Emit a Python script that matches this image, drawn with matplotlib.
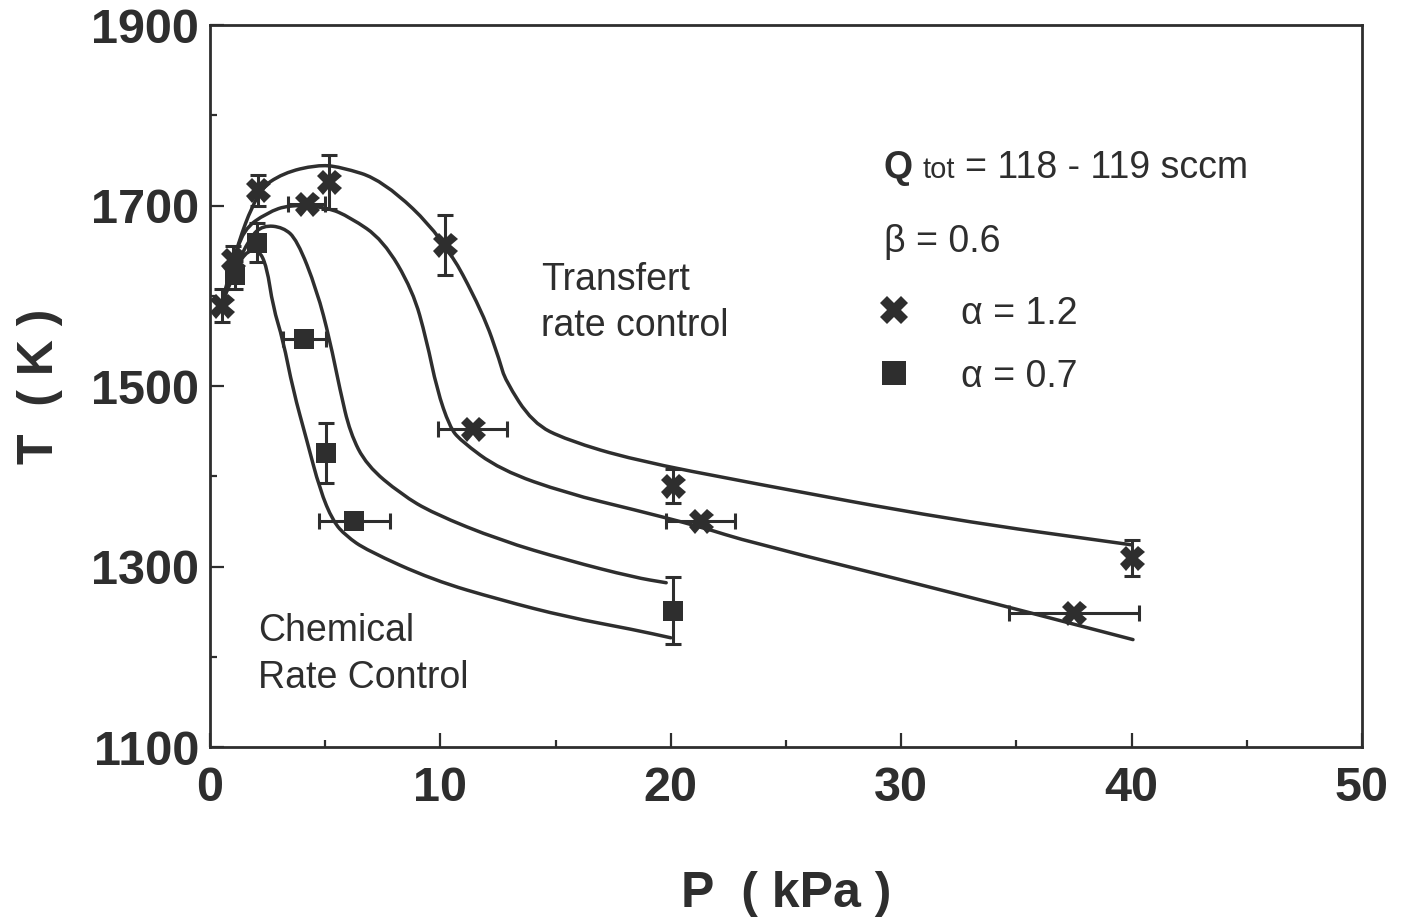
import matplotlib
matplotlib.use('Agg')
import matplotlib.pyplot as plt
from matplotlib.path import Path
from matplotlib.patches import PathPatch
from matplotlib.offsetbox import TextArea, HPacker, AnnotationBbox

plt.rcParams['font.family'] = ['Liberation Sans', 'DejaVu Sans']

ink = '#2e2e2e'

# measured points, alpha = 1.2 (crosses)
p12 = [0.52, 1.0, 2.08, 4.2, 5.17, 10.2, 11.4, 20.1, 21.3, 40.0, 37.5]
t12 = [1589, 1640, 1717, 1702, 1726, 1656, 1452, 1389, 1350, 1309, 1248]
p12_err = [0, 0, 0, 0.8, 0, 0, 1.5, 0, 1.5, 0, 2.8]
t12_err = [18, 15, 17, 0, 30, 33, 0, 19, 0, 20, 0]

# measured points, alpha = 0.7 (squares)
p07 = [1.1, 2.04, 4.1, 5.04, 6.26, 20.1]
t07 = [1623, 1659, 1552, 1426, 1350, 1251]
p07_err = [0, 0, 0.95, 0, 1.55, 0]
t07_err = [15, 22, 0, 33, 0, 37]

# hand drawn trend curves
curveA_p = [0.52, 1.0, 2.08, 3.17, 4.64, 5.64, 7.51, 10.1, 11.85, 12.6, 12.8,
            14.0, 15.5, 18.4, 23.4, 32.1, 40.0]
curveA_t = [1592, 1643, 1717, 1736, 1745, 1743, 1728, 1665, 1581, 1526, 1507,
            1459, 1440, 1418, 1393, 1352, 1324]
curveB_p = [0.52, 1.0, 1.43, 2.47, 3.47, 5.08, 6.08, 7.51, 8.8, 9.4, 9.85,
            10.4, 10.85, 12.6, 15.5, 18.4, 21.3, 23.4, 32.1, 40.06]
curveB_t = [1592, 1634, 1673, 1692, 1701, 1698, 1687, 1662, 1606, 1551, 1496,
            1455, 1440, 1407, 1381, 1363, 1344, 1327, 1272, 1219]
curveC_p = [0.52, 1.0, 1.74, 2.3, 3.17, 3.78, 4.64, 5.2, 5.64, 6.08, 6.8,
            8.3, 9.68, 12.6, 15.5, 18.4, 19.8]
curveC_t = [1592, 1625, 1665, 1678, 1676, 1662, 1606, 1551, 1496, 1448, 1412,
            1380, 1359, 1329, 1307, 1288, 1282]
curveD_p = [0.52, 1.0, 1.5, 2.1, 2.47, 2.73, 3.17, 3.6, 4.2, 4.77, 5.34, 5.9,
            6.8, 9.68, 12.6, 15.5, 18.4, 20.0]
curveD_t = [1592, 1622, 1648, 1652, 1632, 1588, 1551, 1496, 1440, 1385, 1350,
            1334, 1318, 1285, 1263, 1244, 1230, 1221]

xticks = [0, 10, 20, 30, 40, 50]
yticks = [1100, 1300, 1500, 1700, 1900]


def smooth_curve(xs, ys):
    # quadratic bezier pieces through the midpoints, so the pen line is smooth
    pts = list(zip(xs, ys))
    verts = [pts[0]]
    codes = [Path.MOVETO]
    for i in range(1, len(pts) - 1):
        mid = ((pts[i][0] + pts[i + 1][0]) / 2, (pts[i][1] + pts[i + 1][1]) / 2)
        verts += [pts[i], mid]
        codes += [Path.CURVE3, Path.CURVE3]
    verts.append(pts[-1])
    codes.append(Path.LINETO)
    return Path(verts, codes)


fig = plt.figure(figsize=(14.1, 9.22), dpi=100)
ax = fig.add_axes([210/1410, 1 - 747/922, (1362-210)/1410, (747-25)/922])

for cp, ct in [(curveA_p, curveA_t), (curveB_p, curveB_t),
               (curveC_p, curveC_t), (curveD_p, curveD_t)]:
    ax.add_patch(PathPatch(smooth_curve(cp, ct), fill=False, edgecolor=ink,
                           lw=2.5, capstyle='round'))

ax.errorbar(p12, t12, xerr=p12_err, yerr=t12_err, fmt='none', ecolor=ink,
            elinewidth=2.2, capsize=6, capthick=2.2)
ax.errorbar(p07, t07, xerr=p07_err, yerr=t07_err, fmt='none', ecolor=ink,
            elinewidth=2.2, capsize=6, capthick=2.2)
ax.plot(p12, t12, 'X', color=ink, ms=18, mew=0, ls='none', label='α = 1.2')
ax.plot(p07, t07, 's', color=ink, ms=15, mew=0, ls='none', label='α = 0.7')

ax.set_xlim(0, 50)
ax.set_ylim(1100, 1900)
ax.set_xticks(xticks)
ax.set_yticks(yticks)
ax.set_xticks(range(5, 50, 10), minor=True)
ax.set_yticks(range(1200, 1900, 200), minor=True)
ax.tick_params(which='both', direction='in', top=False, right=False,
               width=1.6, colors=ink)
ax.tick_params(which='major', length=10, labelsize=35)
ax.tick_params(axis='x', which='major', pad=14)
ax.tick_params(axis='y', which='major', pad=8)
ax.tick_params(which='minor', length=5)
for lab in ax.get_xticklabels() + ax.get_yticklabels():
    lab.set_fontweight('bold')
for s in ax.spines.values():
    s.set_linewidth(2)
    s.set_color(ink)

ax.set_xlabel('P  ( kPa )', fontsize=36, fontweight='bold', color=ink, labelpad=43)
ax.set_ylabel('T  ( K )', fontsize=36, fontweight='bold', color=ink, labelpad=20)

fs = 27
ax.text(14.37, 1618, 'Transfert', fontsize=fs, color=ink, va='center')
ax.text(14.37, 1567, 'rate control', fontsize=fs, color=ink, va='center')
ax.text(2.08, 1228, 'Chemical', fontsize=fs, color=ink, va='center')
ax.text(2.08, 1177, 'Rate Control', fontsize=fs, color=ink, va='center')

qbox = HPacker(children=[
    TextArea('Q', textprops=dict(fontsize=fs, fontweight='bold', color=ink)),
    TextArea('tot', textprops=dict(fontsize=21, color=ink)),
    TextArea('= 118 - 119 sccm', textprops=dict(fontsize=fs, color=ink))],
    align='baseline', pad=0, sep=7)
ax.add_artist(AnnotationBbox(qbox, (29.25, 1742), xycoords='data',
                             box_alignment=(0, 0.5), frameon=False))
ax.text(29.25, 1660, 'β = 0.6', fontsize=fs, color=ink, va='center')

ax.legend(loc='upper left', bbox_to_anchor=(0.5545, 0.672), frameon=False,
          fontsize=fs, handlelength=0.6, handletextpad=1.5, labelspacing=0.72,
          labelcolor=ink, markerscale=1.15)

fig.savefig('out.png', dpi=100)
